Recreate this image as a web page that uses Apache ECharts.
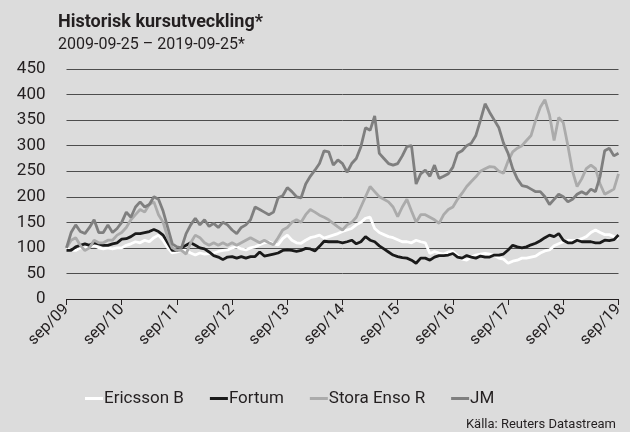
<!DOCTYPE html>
<html>
<head>
<meta charset="utf-8">
<script src="https://cdn.jsdelivr.net/npm/echarts@6/dist/echarts.min.js"></script>
<style>
  html, body { margin: 0; padding: 0; background: #dcdcdc; }
  #main { width: 630px; height: 432px; }
</style>
</head>
<body>
<div id="main"></div>
<script>
// månadsvärden, sep 2009 - sep 2019 (index, start = 100)
const monthNames = ['sep', 'okt', 'nov', 'dec', 'jan', 'feb', 'mar', 'apr', 'maj', 'jun', 'jul', 'aug']
const categories = []
for (let i = 0; i <= 120; i++) {
  const yr = 9 + Math.floor((i + 8) / 12)
  categories.push(monthNames[i % 12] + '/' + String(yr).padStart(2, '0'))
}
const yTicks = [0, 50, 100, 150, 200, 250, 300, 350, 400, 450]

const ericsson = [
  100, 95, 95, 100, 100, 102, 105, 100, 98, 100, 98, 100,
  100, 105, 108, 112, 110, 115, 112, 120, 125, 115, 100, 90,
  92, 95, 95, 90, 86, 90, 88, 89, 90, 93, 95, 96,
  100, 102, 98, 96, 100, 102, 106, 110, 112, 108, 106, 118,
  125, 115, 110, 109, 115, 120, 122, 125, 119, 122, 125, 128,
  132, 135, 138, 145, 150, 158, 160, 138, 130, 126, 122, 120,
  116, 112, 112, 110, 115, 112, 110, 89, 93, 90, 88, 92,
  93, 85, 78, 76, 82, 86, 88, 89, 88, 85, 80, 78,
  70, 74, 76, 80, 80, 82, 84, 90, 94, 96, 104, 108,
  112, 115, 114, 115, 118, 122, 130, 135, 130, 126, 126, 122,
  118
]
const fortum = [
  95, 95, 102, 105, 108, 105, 110, 108, 105, 105, 108, 110,
  117, 118, 122, 128, 128, 130, 132, 136, 132, 125, 110, 95,
  95, 100, 105, 110, 105, 100, 98, 92, 85, 82, 77, 82,
  83, 80, 83, 80, 83, 83, 92, 84, 86, 88, 90, 95,
  96, 95, 93, 95, 99, 98, 94, 103, 113, 112, 112, 112,
  110, 112, 115, 108, 112, 122, 115, 112, 104, 98, 92, 86,
  83, 81, 80, 76, 70, 80, 80, 76, 82, 85, 85, 86,
  89, 82, 80, 85, 82, 80, 84, 82, 82, 86, 86, 88,
  96, 105, 102, 100, 102, 106, 109, 114, 120, 125, 122, 128,
  115, 110, 110, 115, 112, 112, 112, 110, 110, 115, 114, 116,
  125
]
const storaEnso = [
  100, 115, 120, 105, 95, 100, 115, 110, 110, 115, 115, 125,
  130, 140, 155, 165, 175, 170, 185, 190, 165, 150, 120, 100,
  95, 95, 88, 110, 125, 120, 110, 105, 110, 105, 110, 105,
  110, 105, 110, 115, 120, 115, 110, 115, 110, 106, 120, 135,
  140, 150, 155, 150, 165, 175, 170, 164, 160, 155, 148, 141,
  135, 145, 150, 160, 180, 200, 220, 210, 200, 195, 190, 180,
  161, 180, 195, 172, 150, 165, 165, 160, 155, 148, 165, 175,
  180, 195, 207, 220, 230, 239, 250, 255, 259, 258, 250, 246,
  270, 288, 295, 300, 310, 320, 350, 375, 390, 360, 310, 355,
  345, 300, 250, 220, 235, 255, 262, 255, 225, 205, 210, 215,
  245
]
const jm = [
  100, 130, 145, 132, 128, 140, 155, 130, 130, 145, 130, 138,
  150, 170, 160, 180, 190, 180, 185, 200, 195, 172, 140, 108,
  102, 100, 128, 145, 158, 145, 155, 142, 148, 140, 150, 145,
  135, 128, 140, 145, 155, 180, 175, 170, 165, 170, 198, 202,
  218, 210, 200, 198, 225, 240, 252, 265, 290, 288, 262, 272,
  265, 248, 265, 275, 298, 335, 330, 358, 285, 275, 265, 262,
  265, 280, 298, 300, 225, 245, 252, 240, 262, 236, 240, 245,
  258, 285, 290, 300, 305, 320, 350, 382, 365, 350, 335, 305,
  285, 255, 235, 222, 220, 215, 210, 210, 200, 185, 195, 205,
  200, 190, 195, 205, 210, 205, 215, 210, 240, 290, 295, 280,
  285
]

const chartDom = document.getElementById('main')
const myChart = echarts.init(chartDom)
const FONT = 'Roboto'

function lineSeries(name, data, color) {
  return {
    name: name,
    type: 'line',
    data: data,
    showSymbol: false,
    symbol: 'none',
    smooth: false,
    lineStyle: { color: color, width: 2.8 },
    itemStyle: { color: color },
  }
}

var option = {
  backgroundColor: '#dcdcdc',
  animation: false,
  textStyle: { fontFamily: FONT },
  title: {
    left: 53,
    top: 8,
    text: 'Historisk kursutveckling*',
    subtext: '2009-09-25 – 2019-09-25*',
    itemGap: 6,
    textStyle: { fontFamily: FONT, fontSize: 18, fontWeight: 'bold', color: '#231f20' },
    subtextStyle: { fontFamily: FONT, fontSize: 16, color: '#231f20' },
  },
  grid: {
    left: 66.5,
    right: 11.5,
    top: 69,
    bottom: 133,
    containLabel: false,
  },
  legend: {
    left: 80,
    top: 385,
    icon: 'rect',
    itemWidth: 18,
    itemHeight: 3,
    itemGap: 26,
    textStyle: { fontFamily: FONT, fontSize: 17, color: '#231f20', padding: [0, 0, 0, -4] },
    data: ['Ericsson B', 'Fortum', 'Stora Enso R', 'JM'],
  },
  xAxis: {
    type: 'category',
    boundaryGap: false,
    data: categories,
    axisLine: { lineStyle: { color: '#231f20', width: 1 } },
    axisTick: { interval: 11, length: 6, lineStyle: { color: '#231f20' } },
    axisLabel: {
      interval: 11,
      rotate: 45,
      margin: 8,
      fontFamily: FONT,
      fontSize: 16,
      color: '#231f20',
    },
    splitLine: { show: false },
  },
  yAxis: {
    type: 'value',
    min: yTicks[0],
    max: yTicks[yTicks.length - 1],
    interval: 50,
    axisLine: { show: false },
    axisTick: { show: false },
    axisLabel: { fontFamily: FONT, fontSize: 17, color: '#231f20', margin: 21 },
    splitLine: { lineStyle: { color: '#4d4d4d', width: 1 } },
  },
  graphic: [
    {
      type: 'text',
      right: 14,
      top: 418,
      style: { text: 'Källa: Reuters Datastream', font: '13px Roboto', fill: '#231f20' },
    },
  ],
  series: [
    lineSeries('Ericsson B', ericsson, '#ffffff'),
    lineSeries('Fortum', fortum, '#1a1a1a'),
    lineSeries('Stora Enso R', storaEnso, '#ababab'),
    lineSeries('JM', jm, '#7f7f7f'),
  ],
}
option && myChart.setOption(option)
</script>
</body>
</html>
